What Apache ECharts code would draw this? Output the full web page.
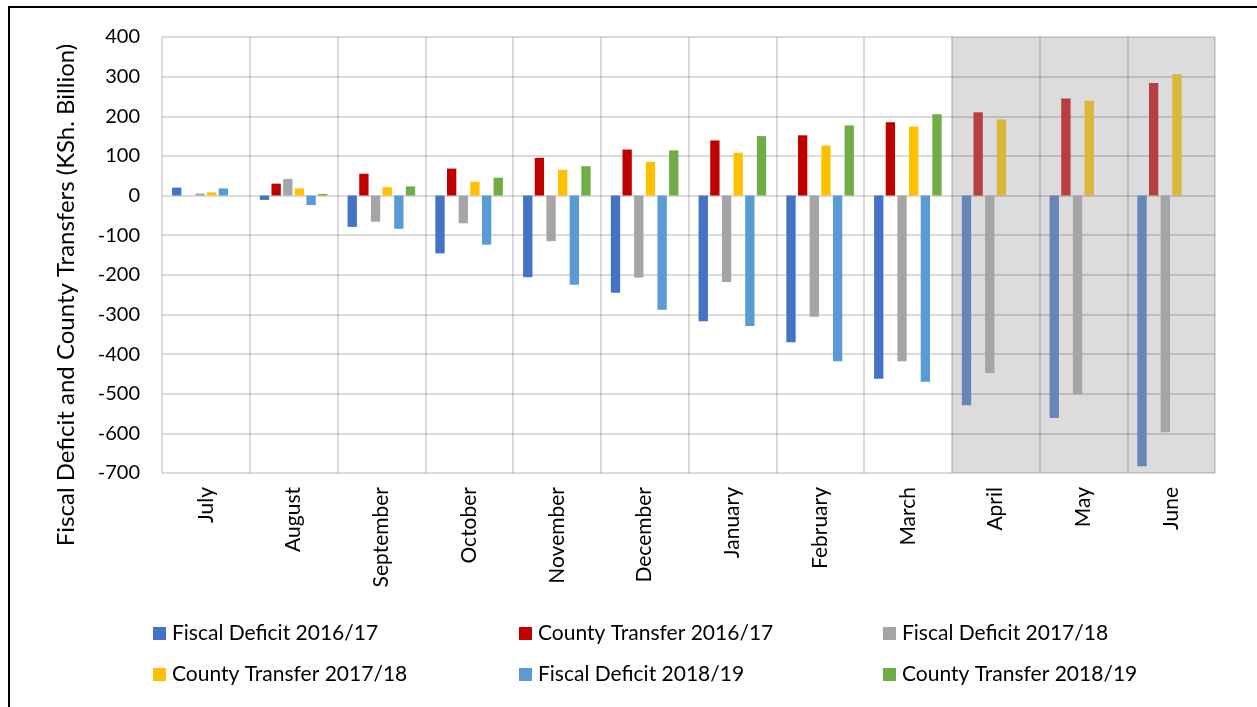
<!DOCTYPE html>
<html>
	<head>
		<meta charset="utf-8">
		<title>Fiscal Deficit and County Transfers</title>
		<script src="https://cdn.jsdelivr.net/npm/echarts@6/dist/echarts.min.js"></script>
		<style>
			html, body { margin: 0; padding: 0; background: #fff; }
			#main { position: absolute; left: 0; top: 0; width: 1257px; height: 707px; }
			/* frame of the original picture (left and top edges only) */
			#frame { position: absolute; left: 8px; top: 6px; width: 1300px; height: 800px;
				border-left: 2px solid #000; border-top: 2px solid #000; pointer-events: none; }
		</style>
	</head>
	<body>
		<div id="main"></div>
		<div id="frame"></div>
		<script type="text/javascript">
			// months of the fiscal year
			var months = ['July', 'August', 'September', 'October', 'November', 'December',
				'January', 'February', 'March', 'April', 'May', 'June'];

			// KSh. Billion, cumulative
			var fiscalDeficit1617 = [20, -11, -79, -146, -206, -245, -317, -370, -462, -529, -561, -683];
			var countyTransfer1617 = [0, 30, 55, 68, 95, 116, 139, 152, 185, 210, 245, 284];
			var fiscalDeficit1718 = [5, 42, -66, -70, -115, -207, -218, -306, -418, -448, -502, -597];
			var countyTransfer1718 = [8, 18, 21, 35, 65, 85, 108, 126, 174, 192, 239, 306];
			var fiscalDeficit1819 = [18, -24, -84, -124, -225, -288, -329, -418, -470, null, null, null];
			var countyTransfer1819 = [0, 4, 23, 45, 74, 114, 150, 177, 205, null, null, null];

			// y axis ticks
			var yMin = -700, yMax = 400, yStep = 100;

			// April-June are projections, shaded
			var firstShaded = 9;

			var font = 'Lato';
			var gridColor = 'rgba(0,0,0,0.14)';

			var seriesDefs = [
				{ name: 'Fiscal Deficit 2016/17', data: fiscalDeficit1617, color: '#4472c4', shade: '#6786b8' },
				{ name: 'County Transfer 2016/17', data: countyTransfer1617, color: '#c00000', shade: '#b83e40' },
				{ name: 'Fiscal Deficit 2017/18', data: fiscalDeficit1718, color: '#a5a5a5', shade: '#a5a5a5' },
				{ name: 'County Transfer 2017/18', data: countyTransfer1718, color: '#ffc000', shade: '#dcb53b' },
				{ name: 'Fiscal Deficit 2018/19', data: fiscalDeficit1819, color: '#5b9bd5', shade: '#5b9bd5' },
				{ name: 'County Transfer 2018/19', data: countyTransfer1819, color: '#70ad47', shade: '#70ad47' }
			];

			// background of the category bands: white, then grey for the shaded months
			var bandColors = months.map(function (m, i) {
				return i >= firstShaded ? '#dcdcdc' : 'rgba(0,0,0,0)';
			});

			var series = seriesDefs.map(function (s) {
				return {
					name: s.name,
					type: 'bar',
					barGap: '25%',
					barCategoryGap: '23%',
					itemStyle: { color: s.color },
					data: s.data.map(function (v, i) {
						if (i >= firstShaded) {
							return { value: v, itemStyle: { color: s.shade } };
						}
						return v;
					})
				};
			});

			function legendColumn(names, left) {
				return {
					orient: 'vertical',
					left: left,
					top: 623,
					padding: 0,
					icon: 'rect',
					itemWidth: 13,
					itemHeight: 13,
					itemGap: 20,
					data: names,
					selectedMode: false,
					textStyle: { fontFamily: font, fontSize: 21, color: '#000', padding: [0, 0, 0, 1] }
				};
			}

			var myChart = echarts.init(document.getElementById('main'));
			var option = {
				animation: false,
				backgroundColor: '#fff',
				grid: {
					left: 162,
					right: 42,
					top: 37,
					bottom: 234
				},
				legend: [
					legendColumn([seriesDefs[0].name, seriesDefs[3].name], 153),
					legendColumn([seriesDefs[1].name, seriesDefs[4].name], 519),
					legendColumn([seriesDefs[2].name, seriesDefs[5].name], 883)
				],
				graphic: [
					{
						type: 'text',
						x: 66,
						y: 295,
						rotation: Math.PI / 2,
						style: {
							text: 'Fiscal Deficit and County Transfers (KSh. Billion)',
							font: '24px ' + font,
							fill: '#000',
							textAlign: 'center',
							textVerticalAlign: 'middle'
						}
					}
				],
				xAxis: {
					type: 'category',
					data: months,
					axisLine: { show: false, onZero: false },
					axisTick: { show: false },
					axisLabel: {
						rotate: 90,
						margin: 14,
						interval: 0,
						fontFamily: font,
						fontSize: 21,
						color: '#000'
					},
					splitLine: { show: true, interval: 0, lineStyle: { color: gridColor, width: 2 } },
					splitArea: { show: true, interval: 0, areaStyle: { color: bandColors } }
				},
				yAxis: {
					type: 'value',
					z: 1,
					min: yMin,
					max: yMax,
					interval: yStep,
					axisLine: { show: false },
					axisTick: { show: false },
					axisLabel: {
						margin: 22,
						fontFamily: font,
						fontSize: 20,
						color: '#000'
					},
					splitLine: { lineStyle: { color: gridColor, width: 2 } }
				},
				series: series
			};

			option && myChart.setOption(option);
		</script>
	</body>
</html>
